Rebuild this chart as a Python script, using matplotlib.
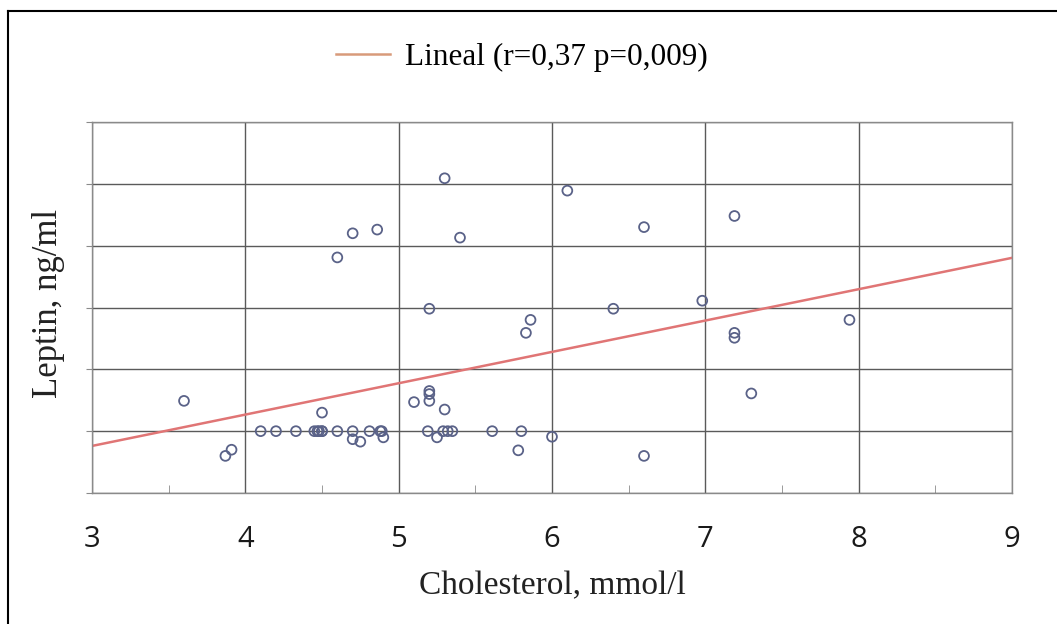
import matplotlib
matplotlib.use("Agg")
import matplotlib.pyplot as plt
from matplotlib.lines import Line2D

# Data (y in grid units; axis has no value labels)
cholesterol = [3.60, 3.91, 3.87, 4.10, 4.20, 4.33, 4.45, 4.47, 4.48, 4.50, 4.50,
               4.50, 4.60, 4.60, 4.70, 4.70, 4.70, 4.75, 4.81, 4.86, 4.88, 4.89,
               4.90, 5.10, 5.19, 5.20, 5.20, 5.20, 5.20, 5.25, 5.29, 5.30, 5.30,
               5.32, 5.35, 5.40, 5.61, 5.78, 5.80, 5.83, 5.86, 6.00, 6.10, 6.40,
               6.60, 6.60, 6.98, 7.19, 7.19, 7.19, 7.30, 7.94]
leptin = [1.49, 0.70, 0.60, 1.00, 1.00, 1.00, 1.00, 1.00, 1.00, 1.00, 1.30,
          1.00, 3.81, 1.00, 4.20, 1.00, 0.87, 0.83, 1.00, 4.26, 1.00, 1.00,
          0.90, 1.47, 1.00, 2.98, 1.65, 1.60, 1.49, 0.90, 1.00, 5.09, 1.35,
          1.00, 1.00, 4.13, 1.00, 0.69, 1.00, 2.59, 2.80, 0.91, 4.89, 2.98,
          4.30, 0.60, 3.11, 4.48, 2.59, 2.51, 1.61, 2.80]

trend_intercept = -0.76
trend_slope = 0.507
trend_label = "Lineal (r=0,37 p=0,009)"
x_ticks = [3, 4, 5, 6, 7, 8, 9]
x_label = "Cholesterol, mmol/l"
y_label = "Leptin, ng/ml"

serif = ["Liberation Serif", "DejaVu Serif"]

fig = plt.figure(figsize=(10.57, 6.24), dpi=100)
ax = fig.add_axes([92/1057, 1-493/624, (1012-92)/1057, (493-122)/624])

grid_c = "#5a5a5a"
ax.set_xlim(3, 9)
ax.set_ylim(0, 6)
ax.set_xticks(x_ticks)
ax.set_xticks([3.5, 4.5, 5.5, 6.5, 7.5, 8.5], minor=True)
ax.set_yticks(range(0, 7))
ax.set_yticklabels([])
ax.grid(True, which="major", color=grid_c, linewidth=1.0)
ax.set_axisbelow(True)
for s in ax.spines.values():
    s.set_color("#8a8a8a")
    s.set_linewidth(1.0)
ax.tick_params(axis="x", which="major", length=0, pad=23, labelsize=21,
               labelcolor="#1a1a1a")
ax.tick_params(axis="x", which="minor", direction="in", length=6, color="#8a8a8a")
ax.tick_params(axis="y", which="major", direction="out", length=4, color="#8a8a8a")
for lab in ax.get_xticklabels():
    lab.set_fontfamily(["Open Sans", "DejaVu Sans"])

ax.scatter(cholesterol, leptin, s=50, facecolors="none", edgecolors="#5a6288",
           linewidths=1.3, zorder=3)

xs = [3, 9]
ys = [trend_intercept + trend_slope * x for x in xs]
ax.plot(xs, ys, color="#e07575", linewidth=1.8, zorder=2)

ax.set_xlabel(x_label, fontsize=24, family=serif, color="#222222", labelpad=12)
ax.set_ylabel(y_label, fontsize=25, family=serif, color="#222222")
ax.yaxis.set_label_coords(-27/920, 0.51)

handle = Line2D([0], [0], color="#d89a7a", linewidth=1.8)
fig.legend([handle], [trend_label], loc="center", bbox_to_anchor=(0.494, 1-57/624),
           frameon=False, prop={"family": serif, "size": 22.5}, handlelength=1.7,
           handletextpad=0.5)

# outer frame (left and top edges visible)
fig.add_artist(Line2D([8/1057, 8/1057], [0, 1-11/624], color="black", linewidth=1.5,
                      transform=fig.transFigure))
fig.add_artist(Line2D([8/1057, 1], [1-11/624, 1-11/624], color="black", linewidth=1.5,
                      transform=fig.transFigure))

fig.savefig("out.png", dpi=100)
